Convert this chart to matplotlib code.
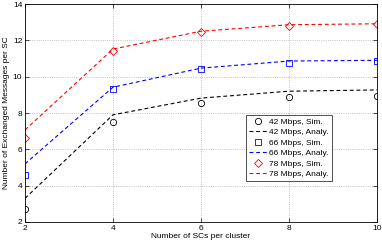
import matplotlib
matplotlib.use("Agg")
import matplotlib.pyplot as plt

plt.rcParams['font.family'] = ['Liberation Sans', 'DejaVu Sans']

x = [2, 4, 6, 8, 10]
sim42 = [2.70, 7.49, 8.54, 8.89, 8.96]
ana42 = [3.30, 7.90, 8.82, 9.20, 9.27]
sim66 = [4.57, 9.31, 10.40, 10.75, 10.84]
ana66 = [5.20, 9.42, 10.47, 10.86, 10.90]
sim78 = [6.63, 11.39, 12.46, 12.80, 12.90]
ana78 = [7.07, 11.52, 12.50, 12.86, 12.91]
xticks = [2, 4, 6, 8, 10]
yticks = [2, 4, 6, 8, 10, 12, 14]

fig = plt.figure(figsize=(3.82, 2.44), dpi=100)
ax = fig.add_axes([25/382, 1-222/244, 352/382, 218/244])

lw = 0.8
ms = 4.5
dash = (3.5, 2.5)
ax.plot(x, sim42, 'o', mfc='none', mec='black', ms=ms, mew=0.6, label='42 Mbps, Sim.')
ax.plot(x, ana42, '--', dashes=dash, color='black', lw=lw, label='42 Mbps, Analy.')
ax.plot(x, sim66, 's', mfc='none', mec='blue', ms=ms-0.5, mew=0.6, label='66 Mbps, Sim.')
ax.plot(x, ana66, '--', dashes=dash, color='blue', lw=lw, label='66 Mbps, Analy.')
ax.plot(x, sim78, 'D', mfc='none', mec='red', ms=ms-0.5, mew=0.6, label='78 Mbps, Sim.')
ax.plot(x, ana78, '--', dashes=dash, color='red', lw=lw, label='78 Mbps, Analy.')

ax.set_xlim(2, 10)
ax.set_ylim(2, 14)
ax.set_xticks(xticks)
ax.set_yticks(yticks)
ax.tick_params(direction='in', labelsize=6, length=3, width=0.5, top=True, right=True, pad=2)
ax.grid(True, linestyle=':', color='#b0b0b0', lw=0.6)
for s in ax.spines.values():
    s.set_linewidth(0.6)
ax.set_xlabel('Number of SCs per cluster', fontsize=6, labelpad=1)
ax.set_ylabel('Number of Exchanged Messages per SC', fontsize=6, labelpad=2)

leg = ax.legend(loc='upper left', bbox_to_anchor=((245.7-25)/352, 1-(115-4)/218), fontsize=6,
                frameon=True, fancybox=False, edgecolor='black', handlelength=2.2,
                handletextpad=0.3, borderpad=0.35, labelspacing=0.32, borderaxespad=0)
leg.get_frame().set_linewidth(0.6)

fig.savefig('out.png', dpi=100)
